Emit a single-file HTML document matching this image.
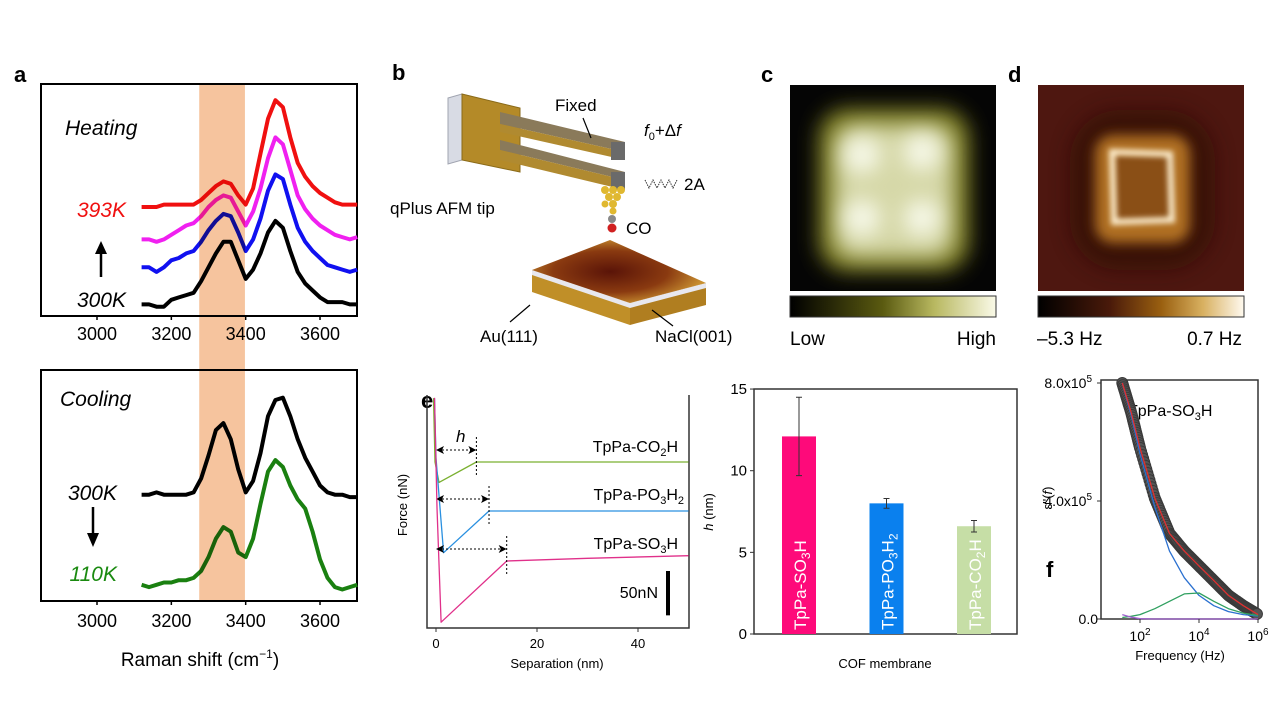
<!DOCTYPE html>
<html><head><meta charset="utf-8"><style>
html,body{margin:0;padding:0;background:#fff;}
svg{display:block;font-family:"Liberation Sans",Arial,sans-serif;}
</style></head><body>
<svg id="fig" width="1280" height="720" viewBox="0 0 1280 720" xmlns="http://www.w3.org/2000/svg">
<defs>
<filter id="b6" x="-30%" y="-30%" width="160%" height="160%"><feGaussianBlur stdDeviation="6"/></filter>
<filter id="b10" x="-30%" y="-30%" width="160%" height="160%"><feGaussianBlur stdDeviation="10"/></filter>
<filter id="b3" x="-30%" y="-30%" width="160%" height="160%"><feGaussianBlur stdDeviation="3"/></filter>
<linearGradient id="gc" x1="0" x2="1"><stop offset="0" stop-color="#000"/><stop offset="0.45" stop-color="#5a5a10"/><stop offset="0.7" stop-color="#b8b860"/><stop offset="1" stop-color="#fafae8"/></linearGradient>
<linearGradient id="gd" x1="0" x2="1"><stop offset="0" stop-color="#000"/><stop offset="0.35" stop-color="#4a1a0a"/><stop offset="0.6" stop-color="#9a6010"/><stop offset="0.8" stop-color="#d8b060"/><stop offset="1" stop-color="#fffaf0"/></linearGradient>
<radialGradient id="surf" cx="0.45" cy="0.5" r="0.55"><stop offset="0" stop-color="#5a1408"/><stop offset="0.6" stop-color="#8a3a10"/><stop offset="1" stop-color="#c99030"/></radialGradient>
</defs>

<!-- Panel labels -->
<text x="14" y="82" font-size="22" font-weight="bold">a</text>
<text x="392" y="80" font-size="22" font-weight="bold">b</text>
<text x="761" y="82" font-size="22" font-weight="bold">c</text>
<text x="1008" y="82" font-size="22" font-weight="bold">d</text>
<text x="421" y="408" font-size="22" font-weight="bold">e</text>
<text x="1046" y="577" font-size="22" font-weight="bold">f</text>

<!-- Panel a static -->
<g id="pa">
<rect x="41" y="84" width="316" height="232" fill="none" stroke="#000" stroke-width="2"/>
<rect x="41" y="370" width="316" height="231" fill="none" stroke="#000" stroke-width="2"/>
<text x="65" y="135" font-size="21" font-style="italic">Heating</text>
<text x="126" y="217" font-size="21" font-style="italic" fill="#f01010" text-anchor="end">393K</text>
<text x="126" y="307" font-size="21" font-style="italic" text-anchor="end">300K</text>
<line x1="101" y1="277" x2="101" y2="250" stroke="#000" stroke-width="2.5"/>
<polygon points="101,241 95,254 107,254" fill="#000"/>
<text x="60" y="406" font-size="21" font-style="italic">Cooling</text>
<text x="117" y="500" font-size="21" font-style="italic" text-anchor="end">300K</text>
<text x="117" y="581" font-size="21" font-style="italic" fill="#1a8a10" text-anchor="end">110K</text>
<line x1="93" y1="507" x2="93" y2="536" stroke="#000" stroke-width="2.5"/>
<polygon points="93,547 87,533 99,533" fill="#000"/>
<text x="200" y="666" font-size="19" text-anchor="middle">Raman shift (cm<tspan font-size="12" dy="-8">−1</tspan><tspan dy="8">)</tspan></text>
</g>

<!-- Panel b illustration -->
<g id="pb">
<polygon points="448,98 462,94 462,160 448,164" fill="#d8dbe4" stroke="#a0a4b0"/>
<polygon points="462,94 520,108 520,172 462,160" fill="#b48a28" stroke="#8a6a18"/>
<polygon points="500,112 625,142 625,152 500,124" fill="#8a7a5a"/>
<polygon points="500,124 625,152 625,160 500,132" fill="#b08a30"/>
<polygon points="500,140 625,172 625,180 500,150" fill="#8a7a5a"/>
<polygon points="500,150 625,180 625,190 500,160" fill="#b08a30"/>
<rect x="611" y="142" width="14" height="18" fill="#6a6a6a"/>
<rect x="611" y="172" width="14" height="18" fill="#6a6a6a"/>
<g fill="#e0b830">
<circle cx="605" cy="190" r="4"/><circle cx="613" cy="190" r="4"/><circle cx="621" cy="190" r="4"/>
<circle cx="609" cy="197" r="4"/><circle cx="617" cy="197" r="4"/><circle cx="613" cy="204" r="4"/><circle cx="605" cy="204" r="3.5"/><circle cx="613" cy="211" r="3.5"/>
</g>
<circle cx="612" cy="219" r="4" fill="#888"/>
<circle cx="612" cy="228" r="4.5" fill="#d02020"/>
<polygon points="532,270 630,303 630,325 532,292" fill="#c08f28"/>
<polygon points="630,303 706,283 706,305 630,325" fill="#b07e20"/>
<polygon points="532,270 630,303 706,283 706,288 630,308 532,275" fill="#e8e8ee"/>
<polygon points="610,240 706,283 630,303 532,270" fill="url(#surf)"/>
<text x="555" y="111" font-size="17">Fixed</text>
<line x1="591" y1="138" x2="583" y2="118" stroke="#000" stroke-width="1.2"/>
<text x="644" y="136" font-size="17"><tspan font-style="italic">f</tspan><tspan font-size="11" dy="4">0</tspan><tspan dy="-4">+Δ</tspan><tspan font-style="italic">f</tspan></text>
<polyline points="645,180 649,188 653,180 657,188 661,180 665,188 669,180 673,188 677,180" fill="none" stroke="#333" stroke-width="1" stroke-dasharray="1.5,1"/>
<text x="684" y="190" font-size="17">2A</text>
<text x="390" y="214" font-size="17">qPlus AFM tip</text>
<text x="626" y="234" font-size="17">CO</text>
<text x="480" y="342" font-size="17">Au(111)</text>
<text x="655" y="342" font-size="17">NaCl(001)</text>
<line x1="510" y1="322" x2="530" y2="305" stroke="#000" stroke-width="1.2"/>
<line x1="673" y1="326" x2="652" y2="310" stroke="#000" stroke-width="1.2"/>
</g>

<!-- Panel c -->
<g id="pc">
<rect x="790" y="85" width="206" height="206" fill="#050505"/>
<rect x="818" y="108" width="152" height="164" rx="30" fill="#7a7a20" filter="url(#b10)"/>
<rect x="835" y="125" width="118" height="132" rx="20" fill="#d6d8a8" filter="url(#b10)"/>
<g fill="#f6f8e8" filter="url(#b10)">
<circle cx="862" cy="155" r="18"/><circle cx="922" cy="152" r="18"/><circle cx="862" cy="218" r="18"/><circle cx="922" cy="218" r="18"/>
</g>
<rect x="790" y="296" width="206" height="21" fill="url(#gc)" stroke="#333"/>
<text x="790" y="345" font-size="19">Low</text>
<text x="996" y="345" font-size="19" text-anchor="end">High</text>
</g>

<!-- Panel d -->
<g id="pd">
<rect x="1038" y="85" width="206" height="206" fill="#4e1710"/>
<rect x="1070" y="110" width="145" height="160" rx="50" fill="#2a0a05" opacity="0.6" filter="url(#b10)"/>
<rect x="1095" y="135" width="95" height="108" rx="18" fill="#b07020" filter="url(#b6)"/>
<rect x="1114" y="155" width="58" height="66" fill="#8a5018" filter="url(#b3)"/>
<path d="M1112,152 L1170,154 L1172,220 L1114,222 Z" fill="none" stroke="#fff0d0" stroke-width="6" filter="url(#b3)"/>
<rect x="1038" y="296" width="206" height="21" fill="url(#gd)" stroke="#333"/>
<text x="1037" y="345" font-size="19">–5.3 Hz</text>
<text x="1242" y="345" font-size="19" text-anchor="end">0.7 Hz</text>
</g>

<!-- Panel e left static -->
<g id="pe">
<polyline points="427,395 427,628 689,628 689,395" fill="none" stroke="#333" stroke-width="1.5"/>
<text x="557" y="668" font-size="13" text-anchor="middle">Separation (nm)</text>
<text transform="translate(407,505) rotate(-90)" font-size="13" text-anchor="middle">Force (nN)</text>
<text x="456" y="442" font-size="17" font-style="italic">h</text>
<text x="678" y="452" font-size="16" text-anchor="end">TpPa-CO<tspan font-size="11" dy="4">2</tspan><tspan dy="-4">H</tspan></text>
<text x="684" y="500" font-size="16" text-anchor="end">TpPa-PO<tspan font-size="11" dy="4">3</tspan><tspan dy="-4">H</tspan><tspan font-size="11" dy="4">2</tspan></text>
<text x="678" y="549" font-size="16" text-anchor="end">TpPa-SO<tspan font-size="11" dy="4">3</tspan><tspan dy="-4">H</tspan></text>
<text x="658" y="598" font-size="16" text-anchor="end">50nN</text>
</g>
<!-- Panel e right static -->
<g id="pe2">
<rect x="754" y="389" width="263" height="245" fill="none" stroke="#333" stroke-width="1.5"/>
<text transform="translate(713,512) rotate(-90)" font-size="13" text-anchor="middle"><tspan font-style="italic">h</tspan> (nm)</text>
<text x="885" y="668" font-size="13" text-anchor="middle">COF membrane</text>
</g>
<!-- Panel f static -->
<g id="pf">
<rect x="1101" y="380" width="157" height="239" fill="none" stroke="#333" stroke-width="1.5"/>
<text x="1180" y="660" font-size="13" text-anchor="middle">Frequency (Hz)</text>
<text transform="translate(1052,498) rotate(-90)" font-size="13" text-anchor="middle">ε''(<tspan font-style="italic">f</tspan>)</text>
<text x="1128" y="416" font-size="16">TpPa-SO<tspan font-size="11" dy="4">3</tspan><tspan dy="-4">H</tspan></text>
</g>
<g id="dyn"></g>
</svg>
<script>
const NS='http://www.w3.org/2000/svg';
const dyn=document.getElementById('dyn');
function mk(tag,attrs,parent){const e=document.createElementNS(NS,tag);for(const k in attrs)e.setAttribute(k,attrs[k]);(parent||dyn).appendChild(e);return e;}

/* ---------- Panel a data ---------- */
const ramanShift=[3120,3140,3160,3180,3200,3220,3240,3260,3280,3300,3320,3340,3360,3380,3400,3420,3440,3460,3480,3500,3520,3540,3560,3580,3600,3620,3640,3660,3680,3700];
const heat300=[.05,.05,.04,.04,.07,.08,.09,.10,.15,.21,.27,.32,.32,.24,.16,.20,.27,.36,.41,.38,.28,.19,.14,.11,.08,.06,.06,.06,.05,.05];
const heatBlue=[.21,.21,.19,.21,.24,.25,.27,.28,.32,.37,.41,.44,.43,.36,.28,.33,.42,.54,.61,.59,.48,.38,.32,.28,.25,.22,.21,.20,.19,.20];
const heatMagenta=[.33,.33,.32,.33,.35,.37,.39,.40,.43,.47,.50,.52,.51,.45,.39,.45,.55,.68,.77,.74,.63,.52,.46,.42,.39,.37,.35,.34,.33,.34];
const heat393=[.47,.47,.47,.48,.48,.48,.48,.48,.50,.53,.56,.58,.57,.52,.48,.55,.70,.85,.93,.90,.77,.66,.60,.56,.53,.51,.49,.48,.48,.48];
const cool300=[.46,.46,.47,.46,.46,.46,.46,.47,.53,.63,.74,.77,.70,.57,.47,.52,.64,.80,.87,.88,.80,.70,.62,.56,.50,.47,.46,.46,.45,.45];
const cool110=[.07,.06,.07,.08,.08,.09,.09,.10,.13,.19,.27,.32,.30,.21,.19,.27,.42,.56,.61,.58,.50,.44,.40,.30,.18,.10,.06,.05,.06,.07];
const ramanTicks=[3000,3200,3400,3600];
const bandRange=[3275,3398];

const ax=v=>97+(v-3000)*0.3717;
function line(xs,ys,fx,fy,color,w,name,parent){
  const p=mk('polyline',{points:xs.map((x,i)=>fx(x).toFixed(1)+','+fy(ys[i]).toFixed(1)).join(' '),fill:'none',stroke:color,'stroke-width':w,'stroke-linejoin':'round'},parent);
  
  
  return p;
}
const ayTop=v=>316-v*232, ayBot=v=>601-v*231;
line(ramanShift,heat300,ax,ayTop,'#000',4,'spectrum-300k-heating');
line(ramanShift,heatBlue,ax,ayTop,'#1010f0',4,'spectrum-blue-heating');
line(ramanShift,heatMagenta,ax,ayTop,'#f020f0',4,'spectrum-magenta-heating');
line(ramanShift,heat393,ax,ayTop,'#f01010',4,'spectrum-393k');
line(ramanShift,cool300,ax,ayBot,'#000',4,'spectrum-300k-cooling');
line(ramanShift,cool110,ax,ayBot,'#1a8010',4,'spectrum-110k');
const band=mk('rect',{x:ax(bandRange[0]),y:84,width:ax(bandRange[1])-ax(bandRange[0]),height:517,fill:'#f3b07e','fill-opacity':'0.75',style:'mix-blend-mode:multiply'});


[[316,340],[601,627]].forEach(([by,ty])=>{
  ramanTicks.forEach(t=>{
    const tk=mk('line',{x1:ax(t),x2:ax(t),y1:by,y2:by+4,stroke:'#000','stroke-width':1.5});
    
    
    const tl=mk('text',{x:ax(t),y:ty,'font-size':18,'text-anchor':'middle'});
    tl.textContent=t;
    
    
  });
});

/* ---------- Panel e force curves ---------- */
const sepCO2H=[-0.5,-0.2,0.6,8,50];
const forceCO2H=[72,0,-23,0,0];
const sepPO3H2=[-0.3,0,1.5,10.5,50];
const forcePO3H2=[127,60,-47,0,0];
const sepSO3H=[-0.3,0.2,1,14,30,50];
const forceSO3H=[184,60,-69,0,3,6];
const hValues=[8,10.5,14];
const sepTicks=[0,20,40];
const baseY=[462,511,561];
const ex=v=>436+v*5.05;
const curves=[[sepCO2H,forceCO2H,'#7ab030','force-curve-co2h'],[sepPO3H2,forcePO3H2,'#2a90e0','force-curve-po3h2'],[sepSO3H,forceSO3H,'#e0308a','force-curve-so3h']];
curves.forEach((c,i)=>{
  const fy=f=>baseY[i]-f*0.887;
  line(c[0],c[1],ex,fy,c[2],1.3,c[3]);
  const ay=baseY[i]-12;
  const arr=mk('line',{x1:ex(0)+2,x2:ex(hValues[i])-2,y1:ay,y2:ay,stroke:'#000','stroke-width':1,'stroke-dasharray':'2,2'});
  
  
  const h1=mk('polygon',{points:`${ex(0)},${ay} ${ex(0)+8},${ay-4} ${ex(0)+6},${ay} ${ex(0)+8},${ay+4}`,fill:'#000'});
  
  
  const xr=ex(hValues[i]);
  const h2=mk('polygon',{points:`${xr},${ay} ${xr-8},${ay-4} ${xr-6},${ay} ${xr-8},${ay+4}`,fill:'#000'});
  
  
  const vd=mk('line',{x1:xr,x2:xr,y1:baseY[i]-25,y2:baseY[i]+13,stroke:'#000','stroke-width':1,'stroke-dasharray':'2,2'});
  
  
});
sepTicks.forEach(t=>{
  const tk=mk('line',{x1:ex(t),x2:ex(t),y1:628,y2:632,stroke:'#333'});
  
  
  const tl=mk('text',{x:ex(t),y:648,'font-size':13,'text-anchor':'middle'});
  tl.textContent=t;
  
  
});
const sb=mk('line',{x1:668,x2:668,y1:571,y2:571+50*0.887,stroke:'#000','stroke-width':4});



/* ---------- Panel e bar chart ---------- */
const barNames=['TpPa-SO3H','TpPa-PO3H2','TpPa-CO2H'];
const barValues=[12.1,8.0,6.6];
const barErrors=[2.4,0.3,0.35];
const barTicks=[0,5,10,15];
const barColors=['#fe0a7a','#0a80ee','#c6dea6'];
const barLabelHtml=['TpPa-SO<tspan font-size="12" dy="4">3</tspan><tspan dy="-4">H</tspan>','TpPa-PO<tspan font-size="12" dy="4">3</tspan><tspan dy="-4">H</tspan><tspan font-size="12" dy="4">2</tspan>','TpPa-CO<tspan font-size="12" dy="4">2</tspan><tspan dy="-4">H</tspan>'];
const by=v=>634-v*16.33;
const bx=i=>799+i*87.5;
barTicks.forEach(t=>{
  const tk=mk('line',{x1:750,x2:754,y1:by(t),y2:by(t),stroke:'#333'});
  
  
  const tl=mk('text',{x:747,y:by(t)+5,'font-size':15,'text-anchor':'end'});
  tl.textContent=t;
  
  
});
barValues.forEach((v,i)=>{
  const r=mk('rect',{x:bx(i)-17,y:by(v),width:34,height:634-by(v),fill:barColors[i]});
  
  
  const e=mk('path',{d:`M${bx(i)},${by(v+barErrors[i])}V${by(v-barErrors[i])}M${bx(i)-3},${by(v+barErrors[i])}h6M${bx(i)-3},${by(v-barErrors[i])}h6`,stroke:'#333','stroke-width':1,fill:'none'});
  
  
  const t=mk('text',{transform:`translate(${bx(i)+7},630) rotate(-90)`,'font-size':17,fill:'#fff'});
  t.innerHTML=barLabelHtml[i];
  
  
});

/* ---------- Panel f dielectric ---------- */
const logFreq=[1.4,1.7,2,2.5,3,3.5,4,4.5,5,5.5,6];
const epsData=[8.0,7.0,5.8,4.1,2.9,2.3,1.8,1.3,0.8,0.45,0.15];
const epsBlue=[8.0,6.9,5.6,3.8,2.3,1.4,0.8,0.45,0.25,0.15,0.1];
const epsGreen=[0.05,0.09,0.15,0.35,0.6,0.85,0.88,0.6,0.35,0.2,0.12];
const epsPurple=[0.15,0.06,0.01,0,0,0,0,0,0,0,0];
const epsTicks=[0,4,8];
const epsTickLabels=['0.0','4.0x10','8.0x10'];
const freqTicks=[2,4,6];
const fx=v=>1258-(6-v)*29.5;
const fy=v=>619-v*29.5;
const dots=mk('g',{});


for(let i=0;i<logFreq.length-1;i++){
  for(let k=0;k<14;k++){
    const t=k/14, lf=logFreq[i]+t*(logFreq[i+1]-logFreq[i]), ev=epsData[i]+t*(epsData[i+1]-epsData[i]);
    mk('circle',{cx:fx(lf),cy:fy(ev),r:5.5,fill:'#555',stroke:'#3a3a3a'},dots);
  }
}
line(logFreq,epsBlue,fx,fy,'#2a70d0',1.3,'fit-component-blue');
line(logFreq,epsGreen,fx,fy,'#30a060',1.3,'fit-component-green');
line(logFreq,epsPurple,fx,fy,'#a060d0',1.3,'fit-component-purple');
line(logFreq,epsData,fx,fy,'#e03030',1.3,'fit-total');
epsTicks.forEach((t,i)=>{
  const tk=mk('line',{x1:1097,x2:1101,y1:fy(t),y2:fy(t),stroke:'#333'});
  
  
  const tl=mk('text',{x:1098,y:fy(t)+5,'font-size':14,'text-anchor':'end'});
  tl.innerHTML=i===0?epsTickLabels[i]:epsTickLabels[i]+'<tspan font-size="10" dy="-6">5</tspan>';
  if(i>0) tl.setAttribute('x',1092);
  
  
});
freqTicks.forEach(t=>{
  const tk=mk('line',{x1:fx(t),x2:fx(t),y1:619,y2:623,stroke:'#333'});
  
  
  const tl=mk('text',{x:fx(t),y:641,'font-size':14,'text-anchor':'middle'});
  tl.innerHTML='10<tspan font-size="10" dy="-6">'+t+'</tspan>';
  
  
});
</script>
</body></html>
